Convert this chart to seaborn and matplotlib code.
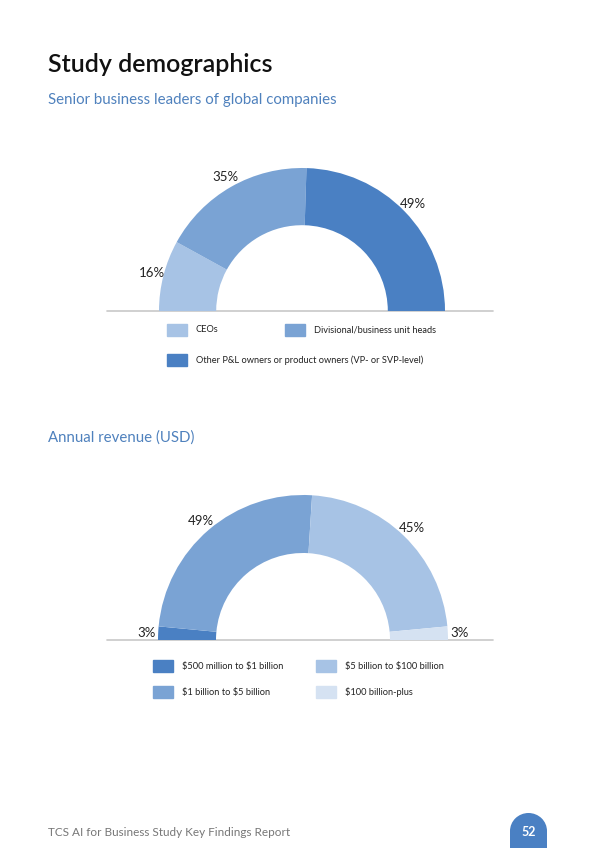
import matplotlib
matplotlib.use('Agg')
import matplotlib.pyplot as plt
import matplotlib.patches as mpatches
import numpy as np
import seaborn as sns

# chart data
roles = ['CEOs', 'Divisional/business unit heads',
         'Other P&L owners or product owners (VP- or SVP-level)']
role_pct = [16, 35, 49]
role_colors = ['#a7c3e5', '#7aa3d4', '#4a80c3']

revenue = ['$500 million to $1 billion', '$1 billion to $5 billion',
           '$5 billion to $100 billion', '$100 billion-plus']
revenue_pct = [3, 49, 45, 3]
revenue_colors = ['#4a80c3', '#7aa3d4', '#a7c3e5', '#d5e2f2']

sns.set_theme(style='white')
plt.rcParams['font.family'] = ['Lato', 'DejaVu Sans']
plt.rcParams['text.parse_math'] = False

W, H = 600, 848
fig = plt.figure(figsize=(W / 100, H / 100), dpi=100)

# page overlay in pixel coordinates
page = fig.add_axes([0, 0, 1, 1])
page.set_xlim(0, W)
page.set_ylim(H, 0)
page.axis('off')


def half_donut(cx, cy, r, values, colors):
    ax = fig.add_axes([(cx - r) / W, (H - cy - r) / H, 2 * r / W, 2 * r / H])
    total = sum(values)
    ax.pie(values + [total], colors=colors + ['none'], startangle=180,
           counterclock=False, radius=1,
           wedgeprops=dict(width=0.4, edgecolor='none', linewidth=0))
    ax.set_xlim(-1, 1)
    ax.set_ylim(-1, 1)
    ax.set_aspect('equal')
    ax.axis('off')
    # percentage labels at the middle of each wedge
    edges = 180 - 180 * np.cumsum([0] + values) / total
    for v, a0, a1 in zip(values, edges[:-1], edges[1:]):
        mid = np.deg2rad((a0 + a1) / 2)
        ax.text(1.08 * np.cos(mid), 1.08 * np.sin(mid), f'{v}%',
                ha='center', va='center', fontsize=9.5, color='#222222')
    ax.plot([(107 - cx) / r, (493 - cx) / r], [0, 0], color='#c8c8c8',
            lw=1.2, clip_on=False, zorder=0)
    return ax


def legend_item(x, y, label, color):
    page.add_patch(mpatches.Rectangle((x, y - 6), 20, 12, color=color))
    page.text(x + 29, y, label, fontsize=6.7, color='#222222',
              ha='left', va='center')


# header
page.text(48, 64, 'Study demographics', fontsize=18, fontweight='semibold',
          color='#111111', ha='left', va='center')
page.text(48, 100, 'Senior business leaders of global companies', fontsize=10.8,
          color='#4f81bd', ha='left', va='center')

half_donut(302, 311, 143, role_pct, role_colors)
legend_item(167, 330, roles[0], role_colors[0])
legend_item(285, 330, roles[1], role_colors[1])
legend_item(167, 360, roles[2], role_colors[2])

page.text(48, 438, 'Annual revenue (USD)', fontsize=10.8,
          color='#4f81bd', ha='left', va='center')

half_donut(303, 640, 145, revenue_pct, revenue_colors)
legend_item(153, 666, revenue[0], revenue_colors[0])
legend_item(153, 692, revenue[1], revenue_colors[1])
legend_item(316, 666, revenue[2], revenue_colors[2])
legend_item(316, 692, revenue[3], revenue_colors[3])

# footer
page.text(48, 832, 'TCS AI for Business Study Key Findings Report', fontsize=8.5,
          color='#777777', ha='left', va='center')
page.add_patch(mpatches.Rectangle((510, 831), 37, 17, color='#4a80c3', lw=0))
page.add_patch(mpatches.Ellipse((528.5, 831), 37, 36, color='#4a80c3', lw=0))
page.text(528.5, 832, '52', fontsize=9, color='white', fontweight='bold',
          ha='center', va='center')

plt.savefig('out.png', dpi=100)
